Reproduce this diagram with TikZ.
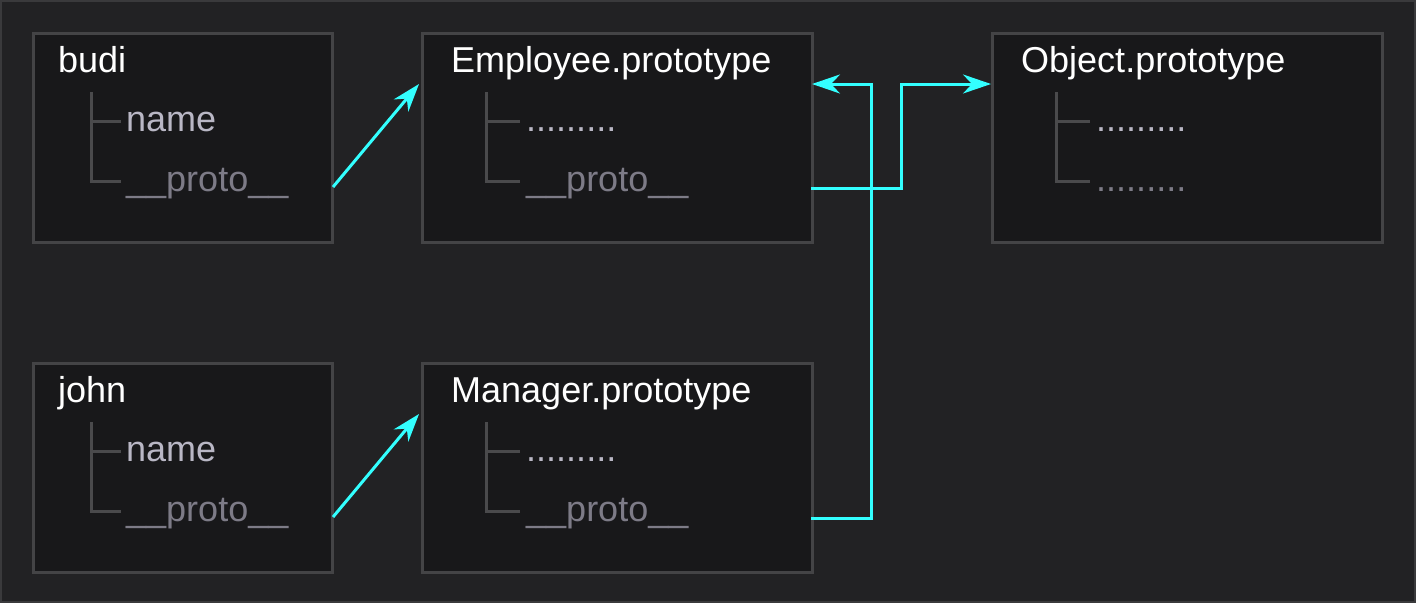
\documentclass[tikz,border=0pt]{standalone}
\usepackage{fontspec}
\setmainfont{Liberation Sans}
\usetikzlibrary{arrows.meta}
\definecolor{bgc}{HTML}{222224}
\definecolor{bgborder}{HTML}{3A3A3C}
\definecolor{boxfill}{HTML}{18181A}
\definecolor{boxline}{HTML}{444446}
\definecolor{treeline}{HTML}{4A4A4C}
\definecolor{keyc}{HTML}{B9B7C5}
\definecolor{dimc}{HTML}{7D7B87}
\definecolor{arrowc}{HTML}{33FFFF}
\tikzset{
  objbox/.style={draw=boxline, line width=2.5pt, fill=boxfill, inner sep=0pt},
  titletext/.style={anchor=base west, inner sep=0pt, text=white, font=\fontsize{36}{43}\selectfont},
  keytext/.style={anchor=base west, inner sep=0pt, text=keyc, font=\fontsize{36}{43}\selectfont},
  dimtext/.style={anchor=base west, inner sep=0pt, text=dimc, font=\fontsize{36}{43}\selectfont},
  tree/.style={draw=treeline, line width=3pt},
  link/.style={draw=arrowc, line width=3pt, -{Stealth[length=28pt, width=19pt, inset=9pt]}},
}
\begin{document}
\begin{tikzpicture}[x=1pt, y=-1pt]
\useasboundingbox (0,0) rectangle (1416,603);
\fill[bgc] (0,0) rectangle (1416,603);
\draw[bgborder, line width=2pt] (1,1) rectangle (1415,602);

% boxes
\node[objbox, minimum width=299pt, minimum height=209pt, anchor=north west] (budi) at (32,32) {};
\node[objbox, minimum width=390pt, minimum height=209pt, anchor=north west] (emp) at (421,32) {};
\node[objbox, minimum width=390pt, minimum height=209pt, anchor=north west] (obj) at (991,32) {};
\node[objbox, minimum width=299pt, minimum height=209pt, anchor=north west] (john) at (32,362) {};
\node[objbox, minimum width=390pt, minimum height=209pt, anchor=north west] (mgr) at (421,362) {};

% budi
\node[titletext] (budiT) at (58,72) {budi};
\node[keytext] (budiN) at (126,131) {name};
\node[dimtext] (budiP) at (126,191) {\_\_proto\_\_};
\draw[tree] (91,92) -- (91,181) -- (121,181) (91,121) -- (121,121);

% john
\node[titletext] (johnT) at (58,402) {john};
\node[keytext] (johnN) at (126,461) {name};
\node[dimtext] (johnP) at (126,521) {\_\_proto\_\_};
\draw[tree] (91,422) -- (91,511) -- (121,511) (91,451) -- (121,451);

% Employee.prototype
\node[titletext] (empT) at (451,72) {Employee.prototype};
\node[keytext] (empD) at (526,131) {.........};
\node[dimtext] (empP) at (526,191) {\_\_proto\_\_};
\draw[tree] (486,92) -- (486,181) -- (520,181) (486,121) -- (520,121);

% Manager.prototype
\node[titletext] (mgrT) at (451,402) {Manager.prototype};
\node[keytext] (mgrD) at (526,461) {.........};
\node[dimtext] (mgrP) at (526,521) {\_\_proto\_\_};
\draw[tree] (486,422) -- (486,511) -- (520,511) (486,451) -- (520,451);

% Object.prototype
\node[titletext] (objT) at (1021,72) {Object.prototype};
\node[keytext] (objD1) at (1096,131) {.........};
\node[dimtext] (objD2) at (1096,191) {.........};
\draw[tree] (1056,92) -- (1056,181) -- (1090,181) (1056,121) -- (1090,121);

% connector anchor points
\coordinate (budiOut) at (333,187);
\coordinate (empIn) at (419,84);
\coordinate (johnOut) at (333,517);
\coordinate (mgrIn) at (419,414);
\coordinate (empOut) at (811,188);
\coordinate (empInR) at (812,84);
\coordinate (mgrOut) at (811,518);
\coordinate (objIn) at (991,84);

\draw[link] (budiOut) -- (empIn);
\draw[link] (johnOut) -- (mgrIn);
\draw[link] (empOut) -- (901,188) -- (901,84) -- (objIn);
\draw[link] (mgrOut) -- (871,518) -- (871,84) -- (empInR);
\end{tikzpicture}
\end{document}
